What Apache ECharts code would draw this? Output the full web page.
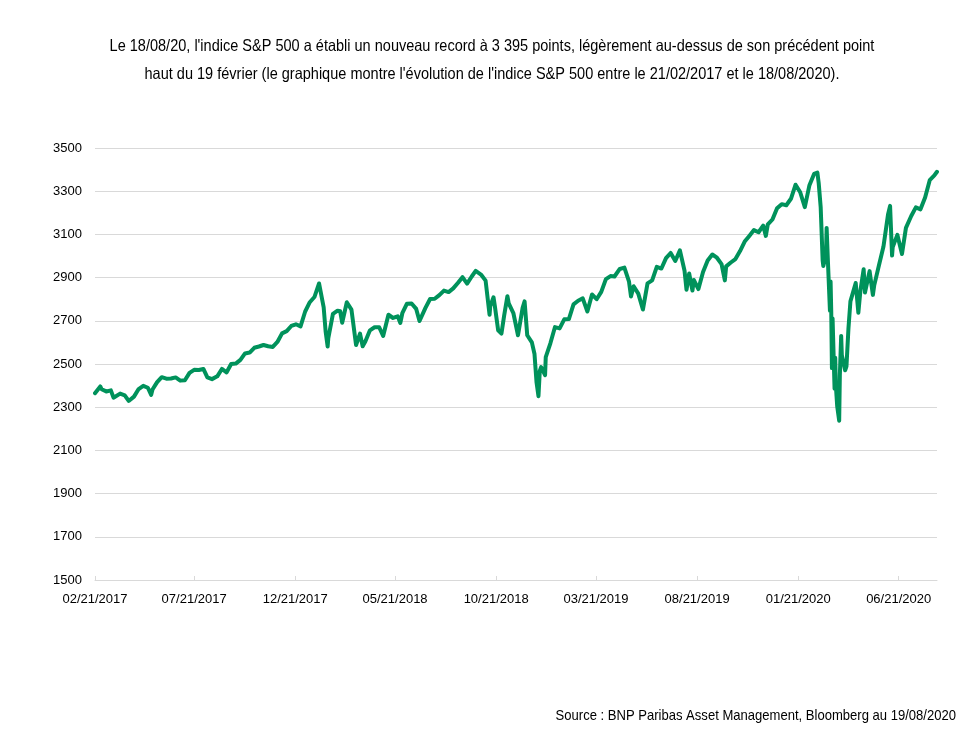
<!DOCTYPE html>
<html>
<head>
<meta charset="utf-8">
<script src="https://cdn.jsdelivr.net/npm/echarts@6/dist/echarts.min.js"></script>
<style>
html,body{margin:0;padding:0;background:#fff;}
#c{width:967px;height:740px;}
</style>
</head>
<body>
<div id="c"></div>
<script>
var titleLines = [
  "Le 18/08/20, l'indice S&P 500 a établi un nouveau record à 3 395 points, légèrement au-dessus de son précédent point",
  "haut du 19 février (le graphique montre l'évolution de l'indice S&P 500 entre le 21/02/2017 et le 18/08/2020)."
];
var sourceText = "Source : BNP Paribas Asset Management, Bloomberg au 19/08/2020";
var tickDates = ["2017-02-21","2017-07-21","2017-12-21","2018-05-21","2018-10-21","2019-03-21","2019-08-21","2020-01-21","2020-06-21"];
var yTicks = [1500,1700,1900,2100,2300,2500,2700,2900,3100,3300,3500];

var dates = [
"2017-02-21","2017-02-24","2017-03-01","2017-03-03","2017-03-10","2017-03-17","2017-03-21","2017-03-24","2017-03-31","2017-04-07","2017-04-13","2017-04-21","2017-04-28","2017-05-05","2017-05-12","2017-05-17","2017-05-19","2017-05-26","2017-06-02","2017-06-09","2017-06-16","2017-06-23","2017-06-30","2017-07-07","2017-07-14","2017-07-21","2017-07-28","2017-08-04","2017-08-10","2017-08-11","2017-08-17","2017-08-18","2017-08-25","2017-09-01","2017-09-08","2017-09-15","2017-09-22","2017-09-29","2017-10-06","2017-10-13","2017-10-20","2017-10-27","2017-11-03","2017-11-10","2017-11-17","2017-11-24","2017-12-01","2017-12-08","2017-12-15","2017-12-22","2017-12-29",
"2018-01-05","2018-01-12","2018-01-19","2018-01-26","2018-02-02","2018-02-05","2018-02-08","2018-02-09","2018-02-16","2018-02-23","2018-02-27","2018-03-02","2018-03-09","2018-03-12","2018-03-16","2018-03-23","2018-03-29","2018-04-02","2018-04-06","2018-04-13","2018-04-20","2018-04-27","2018-05-03","2018-05-11","2018-05-18","2018-05-25","2018-05-29","2018-06-01","2018-06-08","2018-06-15","2018-06-22","2018-06-27","2018-07-06","2018-07-13","2018-07-20","2018-07-27","2018-08-03","2018-08-10","2018-08-17","2018-08-24","2018-08-31","2018-09-07","2018-09-14","2018-09-20","2018-09-28","2018-10-05","2018-10-11","2018-10-12","2018-10-17","2018-10-19","2018-10-24","2018-10-26","2018-10-29","2018-11-02","2018-11-07","2018-11-09","2018-11-16","2018-11-23","2018-11-30","2018-12-03","2018-12-07","2018-12-14","2018-12-18","2018-12-21","2018-12-24","2018-12-26","2018-12-28",
"2019-01-03","2019-01-04","2019-01-11","2019-01-18","2019-01-25","2019-02-01","2019-02-08","2019-02-15","2019-02-22","2019-03-01","2019-03-08","2019-03-15","2019-03-22","2019-03-29","2019-04-05","2019-04-12","2019-04-18","2019-04-26","2019-05-03","2019-05-10","2019-05-13","2019-05-17","2019-05-24","2019-05-31","2019-06-03","2019-06-07","2019-06-14","2019-06-21","2019-06-28","2019-07-05","2019-07-12","2019-07-19","2019-07-26","2019-08-02","2019-08-05","2019-08-09","2019-08-14","2019-08-16","2019-08-23","2019-08-30","2019-09-06","2019-09-13","2019-09-20","2019-09-27","2019-10-02","2019-10-04","2019-10-11","2019-10-18","2019-10-25","2019-11-01","2019-11-08","2019-11-15","2019-11-22","2019-11-29","2019-12-03","2019-12-06","2019-12-13","2019-12-20","2019-12-27",
"2020-01-03","2020-01-10","2020-01-17","2020-01-24","2020-01-31","2020-02-07","2020-02-14","2020-02-19","2020-02-21","2020-02-24","2020-02-27","2020-02-28","2020-03-03","2020-03-04","2020-03-06","2020-03-09","2020-03-10","2020-03-11","2020-03-12","2020-03-13","2020-03-16","2020-03-17","2020-03-18","2020-03-20","2020-03-23","2020-03-24","2020-03-26","2020-03-27","2020-04-01","2020-04-03","2020-04-06","2020-04-09","2020-04-17","2020-04-21","2020-04-24","2020-04-29","2020-05-01","2020-05-08","2020-05-13","2020-05-15","2020-05-22","2020-05-29","2020-06-05","2020-06-08","2020-06-11","2020-06-12","2020-06-19","2020-06-26","2020-07-02","2020-07-10","2020-07-17","2020-07-24","2020-07-31","2020-08-07","2020-08-14","2020-08-18"
];
var values = [
2365,2367,2396,2383,2373,2378,2344,2344,2363,2355,2329,2349,2384,2399,2390,2357,2382,2416,2439,2432,2433,2438,2423,2425,2459,2473,2472,2477,2438,2441,2430,2426,2443,2477,2461,2500,2502,2519,2549,2553,2575,2581,2588,2582,2579,2602,2642,2652,2676,2684,2674,
2743,2786,2810,2873,2762,2649,2581,2620,2732,2747,2744,2691,2786,2783,2752,2588,2641,2582,2604,2656,2670,2670,2630,2728,2713,2721,2690,2735,2779,2780,2755,2699,2760,2801,2802,2819,2840,2833,2850,2875,2902,2872,2905,2931,2914,2886,2728,2767,2809,2768,2656,2658,2641,2723,2814,2781,2736,2633,2760,2790,2633,2600,2546,2417,2351,2468,2486,
2448,2532,2596,2671,2665,2707,2708,2776,2793,2804,2743,2822,2800,2834,2893,2907,2905,2940,2946,2881,2812,2860,2826,2752,2744,2873,2887,2950,2942,2990,3014,2977,3026,2932,2844,2919,2840,2889,2847,2926,2979,3007,2992,2962,2887,2952,2970,2986,3023,3067,3093,3120,3110,3141,3093,3146,3169,3221,3240,
3235,3265,3330,3295,3226,3328,3380,3386,3338,3226,2979,2954,3003,3130,2972,2747,2882,2741,2481,2711,2386,2529,2398,2305,2237,2447,2630,2541,2471,2489,2664,2790,2875,2737,2837,2939,2831,2930,2820,2864,2955,3044,3194,3232,3002,3041,3098,3009,3130,3185,3225,3216,3271,3351,3373,3390
];

function toTs(s){ var p = s.split('-'); return Date.UTC(+p[0], +p[1]-1, +p[2]); }
function pad(n){ return (n<10?'0':'')+n; }
function fmt(ts){ var d = new Date(ts); return pad(d.getUTCMonth()+1)+'/'+pad(d.getUTCDate())+'/'+d.getUTCFullYear(); }

var seriesData = dates.map(function(d,i){ return [toTs(d), values[i]]; });
var tickTs = tickDates.map(toTs);

var FONT = "'Liberation Sans',Arial,sans-serif";
var GREEN = '#00925B';

var chart = echarts.init(document.getElementById('c'), null, {renderer:'canvas'});
chart.setOption({
  animation:false,
  backgroundColor:'#ffffff',
  graphic:[
    {type:'text', x:492, y:46, scaleX:0.88, style:{text:titleLines[0], fontFamily:FONT, fontSize:16.5, fill:'#000', align:'center', verticalAlign:'middle'}},
    {type:'text', x:492, y:74, scaleX:0.88, style:{text:titleLines[1], fontFamily:FONT, fontSize:16.5, fill:'#000', align:'center', verticalAlign:'middle'}},
    {type:'text', x:956, y:716, scaleX:0.9, style:{text:sourceText, fontFamily:FONT, fontSize:14.5, fill:'#000', align:'right', verticalAlign:'middle'}}
  ],
  grid:{left:95, right:30, top:148, bottom:160, containLabel:false},
  xAxis:{
    type:'value',
    min: toTs("2017-02-21"),
    max: toTs("2020-08-18"),
    axisLine:{show:true, lineStyle:{color:'#d9d9d9', width:1}},
    axisTick:{show:true, inside:true, length:4, customValues: tickTs, lineStyle:{color:'#d9d9d9'}},
    axisLabel:{customValues: tickTs, formatter:function(v){ return fmt(v); }, fontFamily:FONT, fontSize:13, color:'#000', margin:13, hideOverlap:false},
    splitLine:{show:false}
  },
  yAxis:{
    type:'value', min:yTicks[0], max:yTicks[yTicks.length-1], interval:200,
    axisLine:{show:false}, axisTick:{show:false},
    axisLabel:{fontFamily:FONT, fontSize:13, color:'#000', margin:13, formatter:function(v){ return String(v); }},
    splitLine:{show:true, lineStyle:{color:'#d9d9d9', width:1}}
  },
  series:[{
    type:'line', data: seriesData, showSymbol:false, symbol:'none',
    lineStyle:{color:GREEN, width:4, join:'round', cap:'round'},
    itemStyle:{color:GREEN}
  }]
});
</script>
</body>
</html>
